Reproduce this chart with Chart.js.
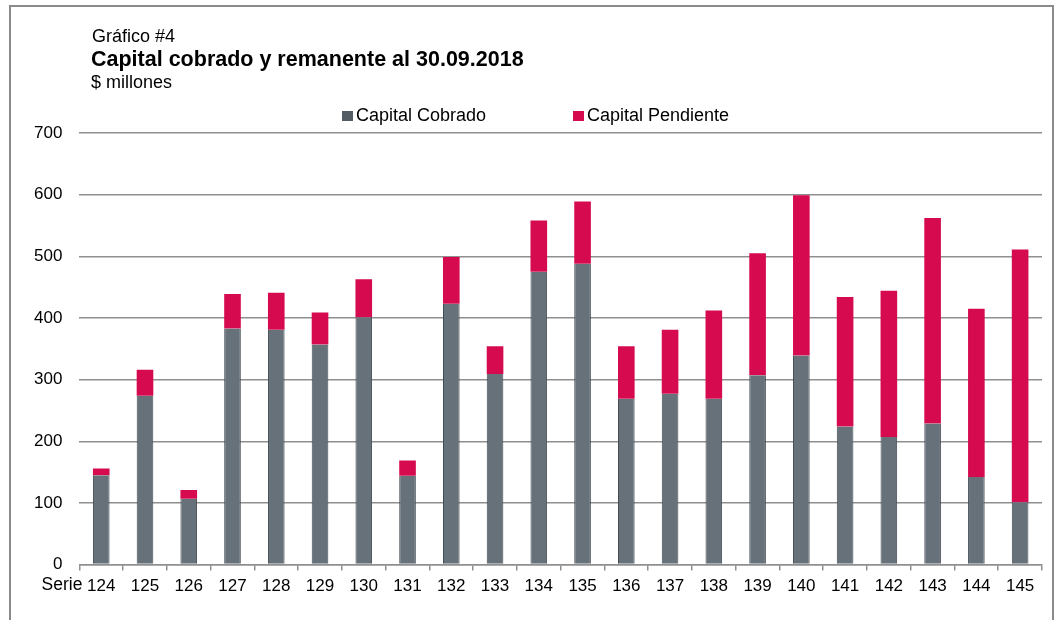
<!DOCTYPE html>
<html>
<head>
<meta charset="utf-8">
<script src="https://cdn.jsdelivr.net/npm/chart.js@4"></script>
<style>
  body { margin: 0; background: #fff; }
  #wrap { position: relative; width: 1064px; height: 620px; overflow: hidden; }
  #frame { position: absolute; left: 9px; top: 5px; width: 1041px; height: 700px; border: 2px solid #8a8a8a; pointer-events: none; }
  canvas { position: absolute; left: 0; top: 0; }
</style>
</head>
<body>
<div id="wrap">
  <canvas id="myChart" width="1064" height="620"></canvas>
  <div id="frame"></div>
</div>
<script>
const categories = ["124", "125", "126", "127", "128", "129", "130", "131", "132", "133", "134",
  "135", "136", "137", "138", "139", "140", "141", "142", "143", "144", "145"];
const capitalCobrado = [145, 274, 107, 383, 381, 357, 401, 144, 423, 309, 475,
  488, 269, 277, 269, 307, 339, 224, 207, 229, 142, 101];
const capitalPendiente = [11, 42, 14, 56, 60, 52, 62, 25, 76, 45, 83,
  101, 85, 104, 143, 198, 260, 210, 237, 333, 273, 410];
const yTicks = [0, 100, 200, 300, 400, 500, 600, 700];

const FONT = "'Liberation Sans', Arial, sans-serif";

// header, legend and "Serie" label
const extras = {
  id: "extras",
  afterDraw(chart) {
    const c = chart.ctx;
    c.save();
    c.fillStyle = "#000";
    c.textBaseline = "middle";
    c.textAlign = "left";
    c.font = "18px " + FONT;
    c.fillText("Gráfico #4", 92, 37);
    c.font = "bold 21.5px " + FONT;
    c.fillText("Capital cobrado y remanente al 30.09.2018", 91, 60);
    c.font = "18px " + FONT;
    c.fillText("$ millones", 91, 83);

    const starts = [342, 573];
    c.font = "18px " + FONT;
    chart.data.datasets.forEach((ds, i) => {
      c.fillStyle = ds.legendColor || ds.backgroundColor;
      c.fillRect(starts[i], 111, 11, 10);
      c.fillStyle = "#000";
      c.fillText(ds.label, starts[i] + 14, 116);
    });

    c.font = "17.5px " + FONT;
    c.textAlign = "right";
    c.fillText("Serie", chart.chartArea.left + 3, 585);
    c.restore();
  }
};

document.addEventListener("DOMContentLoaded", () => {
  const ctx = document.getElementById("myChart");
  new Chart(ctx, {
    type: "bar",
    data: {
      labels: categories,
      datasets: [
        {
          label: "Capital Cobrado",
          data: capitalCobrado,
          backgroundColor: "#66717a",
          legendColor: "#555d64",
          borderColor: "#434b52",
          borderWidth: { left: 1, right: 1, top: 0, bottom: 0 },
          borderSkipped: false,
          barPercentage: 0.38,
          categoryPercentage: 1,
        },
        {
          label: "Capital Pendiente",
          data: capitalPendiente,
          backgroundColor: "#d60b4f",
          borderWidth: 0,
          barPercentage: 0.38,
          categoryPercentage: 1,
        },
      ],
    },
    options: {
      responsive: false,
      animation: false,
      layout: { padding: { top: 133, right: 22, bottom: 17, left: 17 } },
      plugins: {
        legend: { display: false },
        title: { display: false },
        tooltip: { enabled: false },
      },
      scales: {
        x: {
          stacked: true,
          grid: { drawOnChartArea: false, tickLength: 6, color: "#8f8f8f", lineWidth: 1.5 },
          border: { display: true, color: "#8f8f8f", width: 1.5 },
          ticks: { color: "#000", font: { family: FONT, size: 17 }, padding: 6, maxRotation: 0 },
        },
        y: {
          stacked: true,
          min: 0,
          max: 700,
          afterBuildTicks(scale) {
            scale.ticks = yTicks.map(v => ({ value: v }));
          },
          grid: { drawTicks: false, color: "#8f8f8f", lineWidth: 1.5 },
          border: { display: false },
          ticks: { color: "#000", font: { family: FONT, size: 17 }, padding: 17 },
        },
      },
    },
    plugins: [extras],
  });
});
</script>
</body>
</html>
